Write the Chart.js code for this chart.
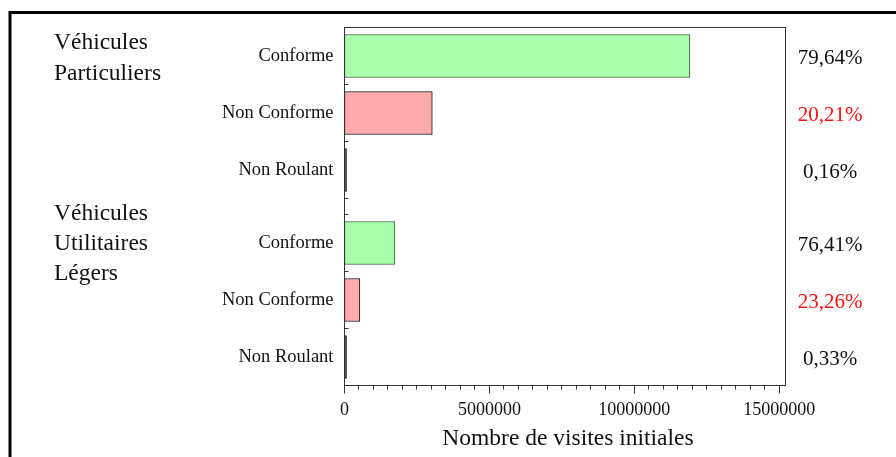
<!DOCTYPE html>
<html>
<head>
<meta charset="utf-8">
<script src="https://cdn.jsdelivr.net/npm/chart.js"></script>
<style>
  html, body { margin: 0; padding: 0; background: #fff; }
  #wrap { position: relative; width: 896px; height: 457px; }
</style>
</head>
<body>
<div id="wrap"><canvas id="chart"></canvas></div>
<script>
// data
const rowLabels = ['Conforme', 'Non Conforme', 'Non Roulant'];
const vpVisits = [11920000, 3030000, 24000];
const vulVisits = [1740000, 530000, 7500];
const vpShares = [79.64, 20.21, 0.16];
const vulShares = [76.41, 23.26, 0.33];
const vpTitle = ['Véhicules', 'Particuliers'];
const vulTitle = ['Véhicules', 'Utilitaires', 'Légers'];
const xTickValues = [0, 5000000, 10000000, 15000000];
const xMax = 15220000;
const xMinorStep = 500000;
const axisTitle = 'Nombre de visites initiales';

const serif = '"Liberation Serif", "Times New Roman", serif';
const fills = ['#aaffaa', '#ffaaaa', '#1e1e14'];
const borders = ['#3a5a3a', '#111111', '#111111'];

function fmtShare(v) {
  return v.toFixed(2).replace('.', ',') + '%';
}

// frame, ticks and the texts around the plot
const decorations = {
  id: 'decorations',
  afterDraw(chart) {
    const ctx = chart.ctx;
    const a = chart.chartArea;
    const xs = chart.scales.x;
    ctx.save();

    // outer frame (only top and left are inside the picture)
    ctx.strokeStyle = '#000';
    ctx.lineWidth = 3;
    ctx.beginPath();
    ctx.moveTo(10, 470);
    ctx.lineTo(10, 12.5);
    ctx.lineTo(910, 12.5);
    ctx.stroke();

    // plot box
    ctx.lineWidth = 1;
    ctx.strokeStyle = '#333';
    ctx.strokeRect(a.left, a.top, a.right - a.left, a.bottom - a.top);

    // x ticks, major and minor
    ctx.beginPath();
    for (let v = 0; v <= xMax; v += xMinorStep) {
      const px = Math.floor(xs.getPixelForValue(v)) + 0.5;
      const len = v % 5000000 === 0 ? 8 : 4;
      ctx.moveTo(px, a.bottom);
      ctx.lineTo(px, a.bottom + len);
    }
    // small inward ticks between rows
    ['yVP', 'yVUL'].forEach(id => {
      const s = chart.scales[id];
      const half = (s.getPixelForValue(1) - s.getPixelForValue(0)) / 2;
      for (let i = 0; i <= rowLabels.length; i++) {
        const py = Math.floor(s.getPixelForValue(i) - half) + 0.5;
        ctx.moveTo(a.left, py);
        ctx.lineTo(a.left + 4, py);
      }
    });
    ctx.stroke();

    // percentages on the right
    ctx.font = '21px ' + serif;
    ctx.textAlign = 'center';
    ctx.textBaseline = 'alphabetic';
    [['yVP', vpShares], ['yVUL', vulShares]].forEach(([id, shares]) => {
      const s = chart.scales[id];
      shares.forEach((v, i) => {
        ctx.fillStyle = i === 1 ? '#ff1010' : '#111';
        ctx.fillText(fmtShare(v), 830, s.getPixelForValue(i) + 7.5);
      });
    });

    // group titles on the left
    ctx.fillStyle = '#111';
    ctx.textAlign = 'left';
    ctx.font = '23.5px ' + serif;
    vpTitle.forEach((t, i) => ctx.fillText(t, 54, 49 + i * 30.5));
    vulTitle.forEach((t, i) => ctx.fillText(t, 54, 220 + i * 30));

    // x axis title
    ctx.font = '23.5px ' + serif;
    ctx.textAlign = 'center';
    ctx.fillText(axisTitle, 568, 445);

    ctx.restore();
  }
};

const yCommon = {
  type: 'category',
  position: 'left',
  stack: 'rows',
  offset: true,
  labels: rowLabels,
  afterFit(s) { s.width = 140; },
  grid: { display: false, drawTicks: false },
  border: { display: false },
  ticks: { padding: 11, color: '#111', font: { family: serif, size: 18.5 } }
};

const barStyle = {
  backgroundColor: fills,
  borderColor: borders,
  borderWidth: 1,
  borderSkipped: false,
  barThickness: 43,
  minBarLength: 2,
  grouped: false
};

new Chart(document.getElementById('chart'), {
  type: 'bar',
  data: {
    datasets: [
      Object.assign({ label: 'VP', data: vpVisits, yAxisID: 'yVP' }, barStyle),
      Object.assign({ label: 'VUL', data: vulVisits, yAxisID: 'yVUL' }, barStyle)
    ]
  },
  options: {
    indexAxis: 'y',
    responsive: true,
    maintainAspectRatio: false,
    animation: false,
    layout: { padding: { left: 204.5, right: 110.5, top: 27.5, bottom: 0 } },
    plugins: {
      legend: { display: false },
      tooltip: { enabled: false }
    },
    scales: {
      x: {
        type: 'linear',
        position: 'bottom',
        min: 0,
        max: xMax,
        afterBuildTicks(s) { s.ticks = xTickValues.map(v => ({ value: v })); },
        afterFit(s) { s.height = 71.5; },
        grid: { display: false, drawTicks: false },
        border: { display: false },
        ticks: {
          padding: 14,
          autoSkip: false,
          maxRotation: 0,
          color: '#111',
          font: { family: serif, size: 18 },
          callback: v => String(v)
        }
      },
      yVP: Object.assign({}, yCommon, { stackWeight: 171, weight: 3 }),
      ySpacer: { type: 'category', labels: [''], position: 'left', stack: 'rows', stackWeight: 16, weight: 2, display: false },
      yVUL: Object.assign({}, yCommon, { stackWeight: 171, weight: 1 })
    }
  },
  plugins: [decorations]
});
</script>
</body>
</html>
